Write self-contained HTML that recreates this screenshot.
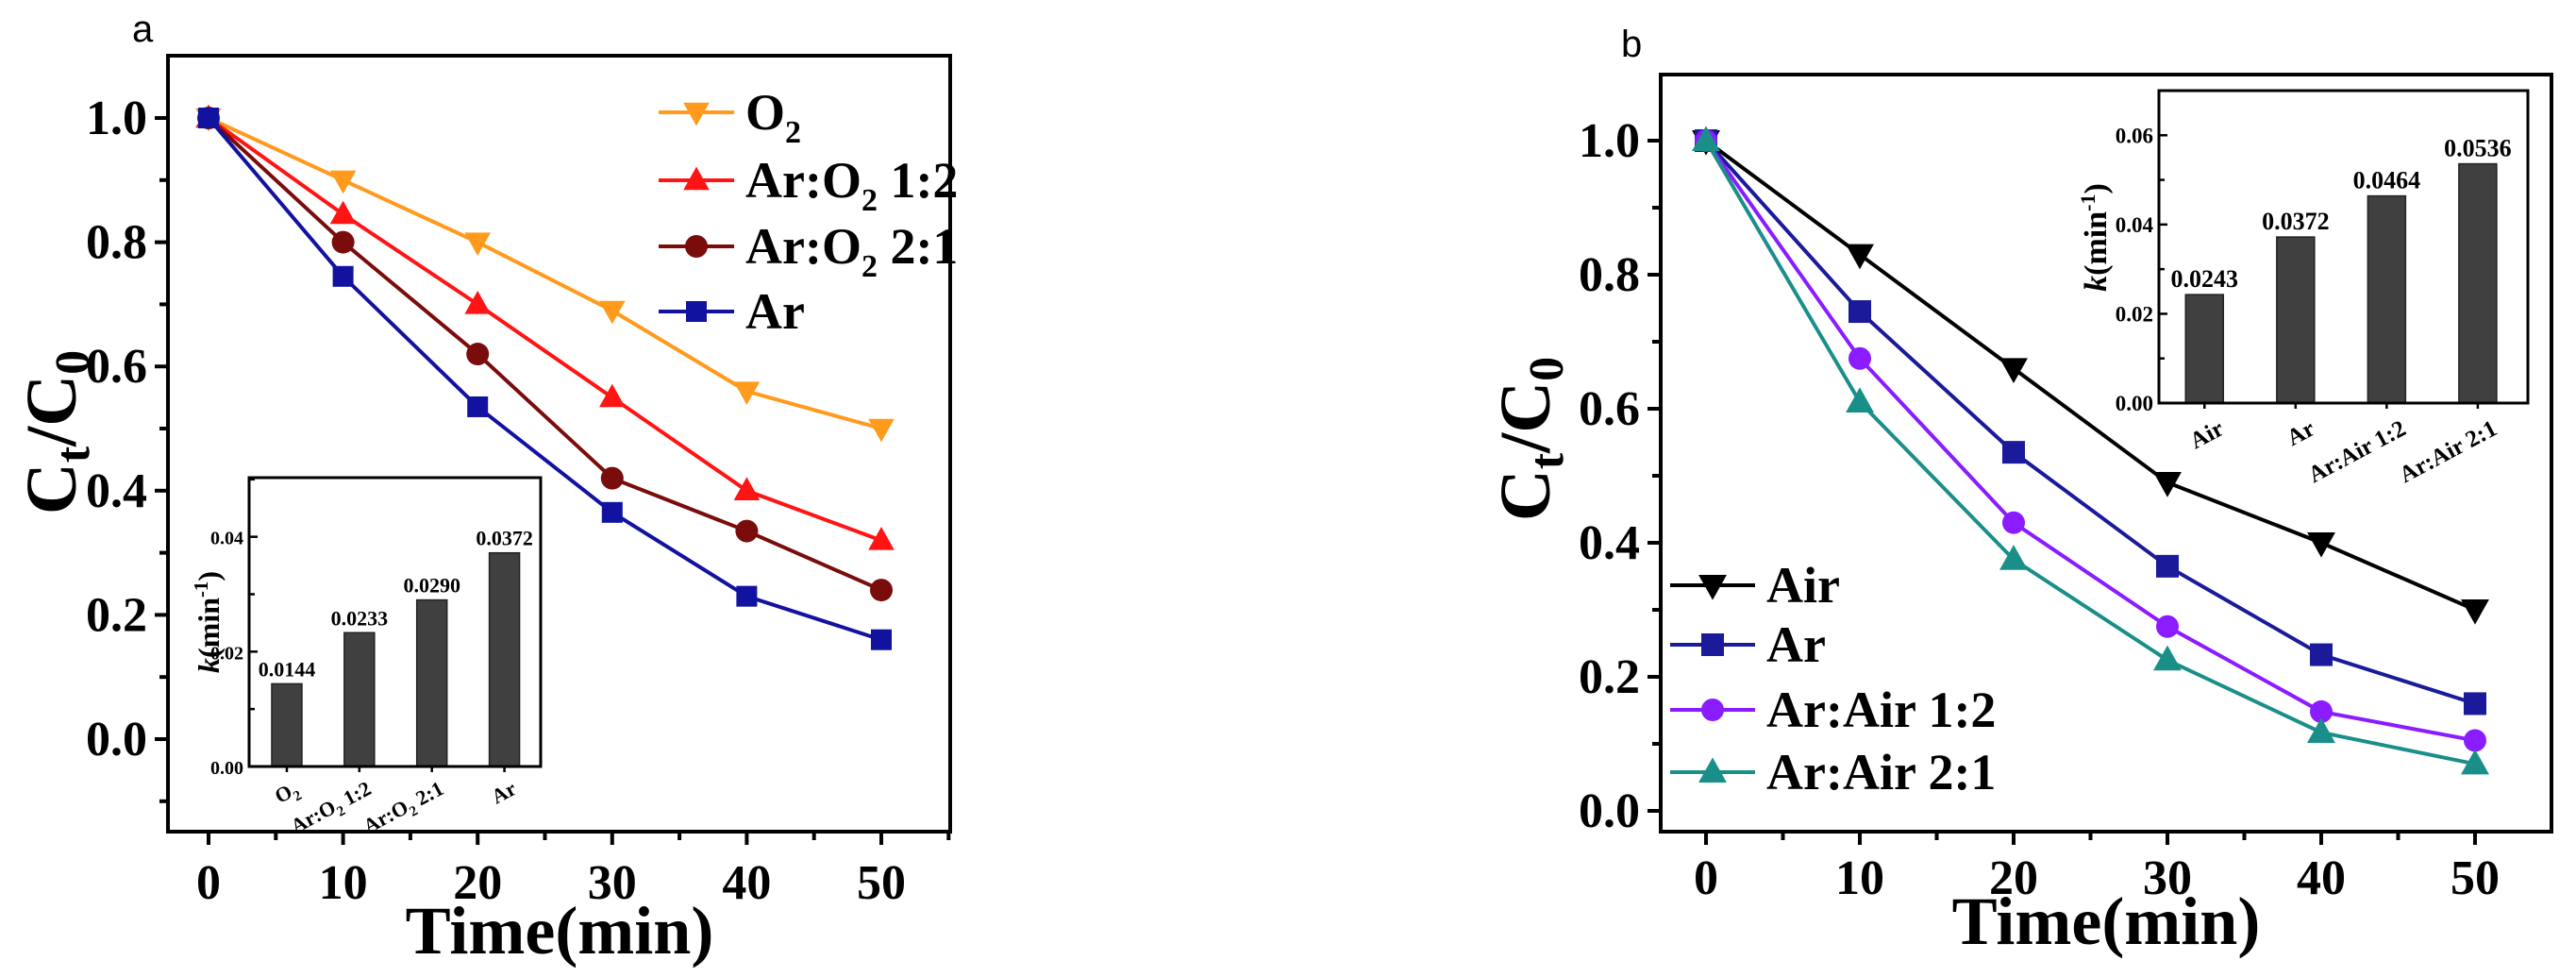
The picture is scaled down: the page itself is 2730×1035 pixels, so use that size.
<!DOCTYPE html>
<html><head><meta charset="utf-8">
<style>
html,body{margin:0;padding:0;background:#fff;}
svg{display:block;}
text{font-family:"Liberation Serif",serif;font-weight:bold;fill:#000;}
</style></head>
<body>
<svg id="fig" width="2730" height="1035" viewBox="0 0 2730 1035" xmlns="http://www.w3.org/2000/svg">
<text x="140" y="44" style="font-family:'Liberation Sans',sans-serif;font-weight:normal;font-size:40px">a</text>
<text x="1718" y="60" style="font-family:'Liberation Sans',sans-serif;font-weight:normal;font-size:40px">b</text>
</svg>
<script>
const timesA=[0,10,20,30,40,50];
const seriesA_O2=[1,0.9,0.8,0.69,0.56,0.5];
const seriesA_12=[1,0.845,0.70,0.55,0.40,0.32];
const seriesA_21=[1,0.80,0.62,0.42,0.335,0.24];
const seriesA_Ar=[1,0.745,0.535,0.365,0.23,0.16];
const timesB=[0,10,20,30,40,50];
const seriesB_Air=[1,0.83,0.66,0.49,0.40,0.30];
const seriesB_Ar=[1,0.745,0.535,0.365,0.233,0.16];
const seriesB_12=[1,0.675,0.43,0.275,0.148,0.105];
const seriesB_21=[1,0.61,0.375,0.225,0.117,0.07];
const insetA_values=[0.0144,0.0233,0.0290,0.0372];
const insetA_labels=["0.0144","0.0233","0.0290","0.0372"];
const insetB_values=[0.0243,0.0372,0.0464,0.0536];
const insetB_labels=["0.0243","0.0372","0.0464","0.0536"];
const yTicksMain=["0.0","0.2","0.4","0.6","0.8","1.0"];
const xTicksMain=["0","10","20","30","40","50"];

const svg=document.getElementById('fig');
const NS='http://www.w3.org/2000/svg';
function mk(tag,attrs,parent){const e=document.createElementNS(NS,tag);for(const k in attrs)e.setAttribute(k,attrs[k]);(parent||svg).appendChild(e);return e;}
function lin(d0,d1,r0,r1){return v=>r0+(v-d0)/(d1-d0)*(r1-r0);}

function marker(g,shape,x,y,s,color){
  let e;
  if(shape==='circle'){e=mk('circle',{cx:x,cy:y,r:s},g);}
  else if(shape==='square'){e=mk('rect',{x:x-s,y:y-s,width:2*s,height:2*s},g);}
  else if(shape==='up'){e=mk('polygon',{points:`${x},${y-s*1.2} ${x-s*1.15},${y+s*0.85} ${x+s*1.15},${y+s*0.85}`},g);}
  else {e=mk('polygon',{points:`${x},${y+s*1.2} ${x-s*1.15},${y-s*0.85} ${x+s*1.15},${y-s*0.85}`},g);}
  e.setAttribute('fill',color);
  
  
}

function mainPanel(p){
  const X=lin(0,50,p.x0,p.x50), Y=lin(0,1,p.y0,p.y1);
  const g=mk('g',{});
  
  
  for(let v=-0.1;v<=1.05;v+=0.1){
    const vv=Math.round(v*10)/10; const y=Y(vv);
    if(y<p.top||y>p.bot)continue;
    const major=Math.abs(Math.round(vv*10))%2===0;
    const t=mk('line',{x1:p.left-(major?14:9),x2:p.left,y1:y,y2:y,stroke:'#000','stroke-width':4},g);
    
    
  }
  yTicksMain.forEach((lab,i)=>{
    const t=mk('text',{x:p.left-22,y:Y(i*0.2)+17,'text-anchor':'end','font-size':52},g);
    t.textContent=lab;
    
    
  });
  for(let v=0;v<=55;v+=5){
    const x=X(v); if(x>p.right)continue;
    const major=v%10===0;
    const t=mk('line',{x1:x,x2:x,y1:p.bot,y2:p.bot+(major?14:9),stroke:'#000','stroke-width':4},g);
    
    
  }
  xTicksMain.forEach((lab,i)=>{
    const t=mk('text',{x:X(i*10),y:p.xtb,'text-anchor':'middle','font-size':52},g);
    t.textContent=lab;
    
    
  });
  const fr=mk('rect',{x:p.left,y:p.top,width:p.right-p.left,height:p.bot-p.top,fill:'none',stroke:'#000','stroke-width':4},g);
  
  
  p.series.forEach(s=>{
    const sg=mk('g',{},g);
    
    
    const pts=s.vals.map((v,i)=>X(p.times[i])+','+Y(v)).join(' ');
    const pl=mk('polyline',{points:pts,fill:'none',stroke:s.color,'stroke-width':4},sg);
    
    
    s.vals.forEach((v,i)=>marker(sg,s.shape,X(p.times[i]),Y(v),s.ms,s.color));
  });
  p.series.forEach((s,i)=>{
    const lg=mk('g',{},g);
    
    
    const y=p.legY[i];
    mk('line',{x1:p.legX,x2:p.legX+p.legW,y1:y,y2:y,stroke:s.color,'stroke-width':4},lg);
    marker(lg,s.shape,p.legX+p.legW/2,y,s.ms,s.color);
    const t=mk('text',{x:p.legX+p.legW+12,y:y+18,'font-size':p.legFs},lg);
    t.innerHTML=s.label;
  });
  const yl=mk('text',{transform:`translate(${p.ylx},${p.yly}) rotate(-90)`,'text-anchor':'middle','font-size':76},g);
  yl.innerHTML='C<tspan font-size="52" dy="14">t</tspan><tspan dy="-14">/C</tspan><tspan font-size="52" dy="14">0</tspan>';
  
  
  const xl=mk('text',{x:p.xlx,y:p.xlb,'text-anchor':'middle','font-size':72},g);
  xl.textContent='Time(min)';
  
  
}

function inset(p){
  const g=mk('g',{});
  
  
  mk('rect',{x:p.left,y:p.top,width:p.right-p.left,height:p.bot-p.top,fill:'#fff',stroke:'none'},g);
  const Y=lin(0,p.ymax,p.bot,p.top);
  const X=lin(p.xmin,p.xmax,p.left,p.right);
  for(let k=0;k*p.minor<=p.ymax+1e-9;k++){
    const y=Y(k*p.minor);
    const major=k%2===0;
    mk('line',{x1:p.left,x2:p.left+(major?9:6),y1:y,y2:y,stroke:'#000','stroke-width':2.5},g);
    if(major){
      const t=mk('text',{x:p.left-6,y:y+8,'text-anchor':'end','font-size':p.tfs},g);
      t.textContent=(k*p.minor).toFixed(2);
      
      
    }
  }
  p.values.forEach((v,i)=>{
    const cx=X(i+1);
    const b=mk('rect',{x:cx-p.bw/2,y:Y(v),width:p.bw,height:p.bot-Y(v),fill:'#404040',stroke:'#222','stroke-width':1.5},g);
    
    
    const t=mk('text',{x:cx,y:Y(v)-8,'text-anchor':'middle','font-size':p.vfs},g);
    t.textContent=p.labels[i];
    
    
    mk('line',{x1:cx,x2:cx,y1:p.bot,y2:p.bot+6,stroke:'#000','stroke-width':2.5},g);
    const c=mk('text',{transform:`translate(${cx+p.catdx},${p.bot+p.catdy}) rotate(-28)`,'text-anchor':'end','font-size':p.cfs},g);
    c.innerHTML=p.cats[i];
    
    
  });
  mk('rect',{x:p.left,y:p.top,width:p.right-p.left,height:p.bot-p.top,fill:'none',stroke:'#000','stroke-width':3},g);
  const yl=mk('text',{transform:`translate(${p.ylx},${(p.top+p.bot)/2+p.yloff}) rotate(-90)`,'text-anchor':'middle','font-size':p.yfs},g);
  yl.innerHTML='<tspan font-style="italic">k</tspan>(min<tspan font-size="'+(p.yfs*0.65)+'" dy="-12">-1</tspan><tspan dy="12">)</tspan>';
  
  
}

const sub='<tspan font-size="34" dy="14">2</tspan><tspan dy="-14">';
mainPanel({name:'panel-a',left:178,right:1007,top:59,bot:881,x0:221,x50:934,y0:783,y1:125,times:timesA,xtb:952,
  ylx:80,yly:458,xlx:593,xlb:1010,legX:698,legW:80,legFs:54,legY:[119,191,261,330],
  series:[
    {id:'o2',vals:seriesA_O2,color:'#ff9a1c',shape:'down',ms:12,label:'O'+sub+'</tspan>'},
    {id:'ar-o2-1-2',vals:seriesA_12,color:'#ff1414',shape:'up',ms:12,label:'Ar:O'+sub+' 1:2</tspan>'},
    {id:'ar-o2-2-1',vals:seriesA_21,color:'#7a0c0c',shape:'circle',ms:12,label:'Ar:O'+sub+' 2:1</tspan>'},
    {id:'ar',vals:seriesA_Ar,color:'#1212a0',shape:'square',ms:11,label:'Ar'}
  ]});
mainPanel({name:'panel-b',left:1760,right:2704,top:79,bot:881,x0:1808,x50:2623,y0:859,y1:149,times:timesB,xtb:947,
  ylx:1642,yly:465,xlx:2232,xlb:1000,legX:1770,legW:90,legFs:54,legY:[620,683,752,818],
  series:[
    {id:'air',vals:seriesB_Air,color:'#000',shape:'down',ms:13,label:'Air'},
    {id:'ar',vals:seriesB_Ar,color:'#1a1a9a',shape:'square',ms:12,label:'Ar'},
    {id:'ar-air-1-2',vals:seriesB_12,color:'#8a1cff',shape:'circle',ms:12,label:'Ar:Air 1:2'},
    {id:'ar-air-2-1',vals:seriesB_21,color:'#1a8f8a',shape:'up',ms:13,label:'Ar:Air 2:1'}
  ]});
const isub='<tspan font-size="15" dy="6">2</tspan><tspan dy="-6">';
inset({name:'inset-a',left:264,right:573,top:506,bot:812,ymax:0.0503,minor:0.01,xmin:0.48,xmax:4.5,bw:32,
  values:insetA_values,labels:insetA_labels,tfs:20,vfs:22,cfs:22,yfs:32,ylx:232,yloff:0,catdx:14,catdy:28,
  cats:['O'+isub+'</tspan>','Ar:O'+isub+' 1:2</tspan>','Ar:O'+isub+' 2:1</tspan>','Ar']});
inset({name:'inset-b',left:2288,right:2679,top:96,bot:427,ymax:0.07,minor:0.01,xmin:0.5,xmax:4.55,bw:40,
  values:insetB_values,labels:insetB_labels,tfs:23,vfs:26,cfs:25,yfs:34,ylx:2232,yloff:-10,catdx:22,catdy:32,
  cats:['Air','Ar','Ar:Air 1:2','Ar:Air 2:1']});
</script>
</body></html>
